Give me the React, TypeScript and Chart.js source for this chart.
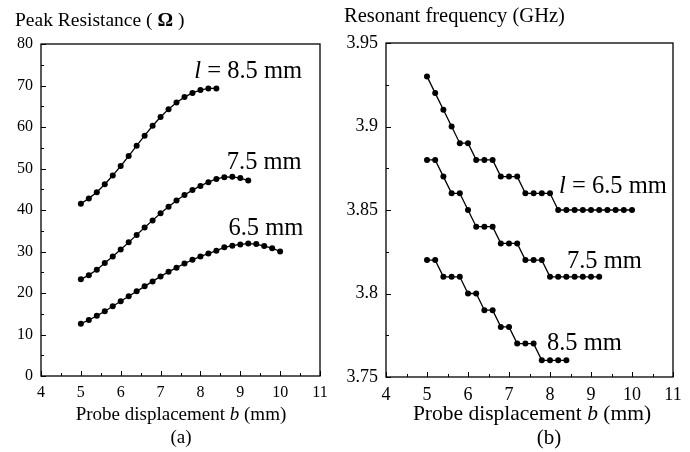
import React, { useEffect, useRef } from "react";
import { Chart, registerables } from "chart.js";

Chart.register(...registerables);

const FONT = "'Liberation Serif', 'Times New Roman', serif";

// x axis (probe displacement b, mm)
const X_TICKS = [4, 5, 6, 7, 8, 9, 10, 11];
const X_MINOR = [4.5, 5.5, 6.5, 7.5, 8.5, 9.5, 10.5];

// (a) Peak resistance
const RES_Y_TICKS = [0, 10, 20, 30, 40, 50, 60, 70, 80];
const RES_Y_MINOR = [5, 15, 25, 35, 45, 55, 65, 75];

const B_85 = [5, 5.2, 5.4, 5.6, 5.8, 6, 6.2, 6.4, 6.6, 6.8, 7, 7.2, 7.4, 7.6, 7.8, 8, 8.2, 8.4];
const RES_85 = [41.5, 42.8, 44.3, 46.2, 48.3, 50.6, 53.0, 55.5, 57.9, 60.3, 62.4, 64.3, 65.9, 67.2, 68.2, 68.9, 69.3, 69.3];

const B_75 = [5, 5.2, 5.4, 5.6, 5.8, 6, 6.2, 6.4, 6.6, 6.8, 7, 7.2, 7.4, 7.6, 7.8, 8, 8.2, 8.4, 8.6, 8.8, 9, 9.2];
const RES_75 = [23.3, 24.3, 25.6, 27.2, 28.8, 30.5, 32.2, 34.0, 35.8, 37.5, 39.2, 40.8, 42.3, 43.6, 44.8, 45.8, 46.7, 47.5, 47.9, 48.0, 47.7, 47.1];

const B_65 = [5, 5.2, 5.4, 5.6, 5.8, 6, 6.2, 6.4, 6.6, 6.8, 7, 7.2, 7.4, 7.6, 7.8, 8, 8.2, 8.4, 8.6, 8.8, 9, 9.2, 9.4, 9.6, 9.8, 10];
const RES_65 = [12.6, 13.5, 14.5, 15.6, 16.8, 18.0, 19.2, 20.4, 21.6, 22.8, 24.0, 25.1, 26.1, 27.1, 28.0, 28.8, 29.5, 30.2, 31.0, 31.4, 31.7, 31.9, 31.8, 31.3, 30.8, 30.0];

// (b) Resonant frequency
const FREQ_Y_TICKS = [3.75, 3.8, 3.85, 3.9, 3.95];
const FREQ_Y_MINOR = [3.775, 3.825, 3.875, 3.925];

const FREQ_65 = [3.93, 3.92, 3.91, 3.9, 3.89, 3.89, 3.88, 3.88, 3.88, 3.87, 3.87, 3.87, 3.86, 3.86, 3.86, 3.86, 3.85, 3.85, 3.85, 3.85, 3.85, 3.85, 3.85, 3.85, 3.85, 3.85];
const FREQ_75 = [3.88, 3.88, 3.87, 3.86, 3.86, 3.85, 3.84, 3.84, 3.84, 3.83, 3.83, 3.83, 3.82, 3.82, 3.82, 3.81, 3.81, 3.81, 3.81, 3.81, 3.81, 3.81];
const FREQ_85 = [3.82, 3.82, 3.81, 3.81, 3.81, 3.8, 3.8, 3.79, 3.79, 3.78, 3.78, 3.77, 3.77, 3.77, 3.76, 3.76, 3.76, 3.76];

// curve labels: [b, value, italic prefix, text]
const RES_LABELS: [number, number, string, string][] = [
  [10.55, 71.7, "l", " = 8.5 mm"],
  [10.54, 50.0, "", "7.5 mm"],
  [10.58, 34.0, "", "6.5 mm"],
];
const FREQ_LABELS: [number, number, string, string][] = [
  [10.85, 3.86, "l", " = 6.5 mm"],
  [10.24, 3.815, "", "7.5 mm"],
  [9.75, 3.766, "", "8.5 mm"],
];

type Series = { x: number[]; y: number[] };

const LABEL_PX = 24.5;

function framePlugin(xMinor: number[], yMinor: number[], labels: [number, number, string, string][]) {
  return {
    id: "frame",
    afterDatasetsDraw(chart: any) {
      const { ctx, chartArea: a, scales } = chart;
      const xs = scales.x;
      const ys = scales.y;
      ctx.save();
      ctx.strokeStyle = "#000";
      ctx.lineWidth = 1.3;
      ctx.strokeRect(a.left, a.top, a.right - a.left, a.bottom - a.top);
      ctx.lineWidth = 1;
      ctx.beginPath();
      xs.ticks.forEach((t: any) => {
        const px = Math.round(xs.getPixelForValue(t.value)) + 0.5;
        ctx.moveTo(px, a.bottom);
        ctx.lineTo(px, a.bottom - 5);
      });
      xMinor.forEach((v) => {
        const px = Math.round(xs.getPixelForValue(v)) + 0.5;
        ctx.moveTo(px, a.bottom);
        ctx.lineTo(px, a.bottom - 3);
      });
      ys.ticks.forEach((t: any) => {
        const py = Math.round(ys.getPixelForValue(t.value)) + 0.5;
        ctx.moveTo(a.left, py);
        ctx.lineTo(a.left + 5, py);
      });
      yMinor.forEach((v) => {
        const py = Math.round(ys.getPixelForValue(v)) + 0.5;
        ctx.moveTo(a.left, py);
        ctx.lineTo(a.left + 3, py);
      });
      ctx.stroke();
      ctx.fillStyle = "#000";
      ctx.textBaseline = "alphabetic";
      ctx.textAlign = "left";
      labels.forEach(([bx, vy, pre, text]) => {
        const px = xs.getPixelForValue(bx);
        const py = ys.getPixelForValue(vy);
        ctx.font = `italic ${LABEL_PX}px ${FONT}`;
        const w1 = pre ? ctx.measureText(pre).width : 0;
        ctx.font = `${LABEL_PX}px ${FONT}`;
        const w2 = ctx.measureText(text).width;
        let sx = px - w1 - w2;
        if (pre) {
          ctx.font = `italic ${LABEL_PX}px ${FONT}`;
          ctx.fillText(pre, sx, py);
          sx += w1;
        }
        ctx.font = `${LABEL_PX}px ${FONT}`;
        ctx.fillText(text, sx, py);
      });
      ctx.restore();
    },
  };
}

function Panel(props: {
  series: Series[];
  yMin: number;
  yMax: number;
  yTicks: number[];
  yMinor: number[];
  labels: [number, number, string, string][];
  padTop: number;
  padRight: number;
  xAxisH: number;
  yLabelPad: number;
  tickSize: number;
  left: number;
}) {
  const ref = useRef<HTMLCanvasElement | null>(null);
  useEffect(() => {
    if (!ref.current) return;
    const chart = new Chart(ref.current, {
      type: "scatter",
      data: {
        datasets: props.series.map((s) => ({
          data: s.x.map((x, i) => ({ x, y: s.y[i] })),
          showLine: true,
          borderColor: "#000",
          backgroundColor: "#000",
          borderWidth: 1.3,
          pointRadius: 3,
          pointHoverRadius: 3,
          pointBorderWidth: 0,
          tension: 0,
        })),
      },
      options: {
        responsive: false,
        animation: false,
        events: [],
        layout: { padding: { left: 0, right: props.padRight, top: props.padTop, bottom: 0 } },
        plugins: { legend: { display: false }, tooltip: { enabled: false } },
        scales: {
          x: {
            type: "linear",
            min: 4,
            max: 11,
            grid: { display: false, drawTicks: false },
            border: { display: false },
            afterBuildTicks: (s: any) => {
              s.ticks = X_TICKS.map((v) => ({ value: v }));
            },
            afterFit: (s: any) => {
              s.height = props.xAxisH;
            },
            ticks: {
              padding: 7,
              color: "#000",
              font: { family: FONT, size: props.tickSize },
              maxRotation: 0,
              autoSkip: false,
              callback: (v: any) => String(v),
            },
          },
          y: {
            type: "linear",
            min: props.yMin,
            max: props.yMax,
            grid: { display: false, drawTicks: false },
            border: { display: false },
            afterBuildTicks: (s: any) => {
              s.ticks = props.yTicks.map((v) => ({ value: v }));
            },
            afterFit: (s: any) => {
              s.width = 41;
            },
            ticks: {
              padding: props.yLabelPad,
              color: "#000",
              font: { family: FONT, size: props.tickSize },
              autoSkip: false,
              callback: (v: any) => String(Number(Number(v).toFixed(3))),
            },
          },
        },
      } as any,
      plugins: [framePlugin(X_MINOR, props.yMinor, props.labels)],
    });
    return () => chart.destroy();
  }, []);
  return (
    <canvas
      ref={ref}
      width={345}
      height={452}
      style={{ position: "absolute", left: props.left, top: 0, width: 345, height: 452 }}
    />
  );
}

const textStyle: React.CSSProperties = {
  position: "absolute",
  fontFamily: FONT,
  color: "#000",
  whiteSpace: "nowrap",
  lineHeight: "22px",
  textAlign: "center",
};

export default function App() {
  return (
    <div style={{ position: "absolute", left: 0, top: 0, width: 690, height: 452, background: "#fff", overflow: "hidden" }}>
      <Panel
        series={[
          { x: B_85, y: RES_85 },
          { x: B_75, y: RES_75 },
          { x: B_65, y: RES_65 },
        ]}
        yMin={0}
        yMax={80}
        yTicks={RES_Y_TICKS}
        yMinor={RES_Y_MINOR}
        labels={RES_LABELS}
        padTop={44}
        padRight={25}
        xAxisH={76}
        yLabelPad={8}
        tickSize={16}
        left={0}
      />
      <Panel
        series={[
          { x: B_65, y: FREQ_65 },
          { x: B_75, y: FREQ_75 },
          { x: B_85, y: FREQ_85 },
        ]}
        yMin={3.75}
        yMax={3.95}
        yTicks={FREQ_Y_TICKS}
        yMinor={FREQ_Y_MINOR}
        labels={FREQ_LABELS}
        padTop={43}
        padRight={17}
        xAxisH={75}
        yLabelPad={8}
        tickSize={18}
        left={345}
      />
      <div style={{ ...textStyle, textAlign: "left", left: 15, top: 9, fontSize: 19.5 }}>
        Peak Resistance ( <b>Ω</b> )
      </div>
      <div style={{ ...textStyle, textAlign: "left", left: 344, top: 4, fontSize: 20.5 }}>Resonant frequency (GHz)</div>
      <div style={{ ...textStyle, left: 75, width: 212, top: 403, fontSize: 19 }}>
        Probe displacement <i>b</i> (mm)
      </div>
      <div style={{ ...textStyle, left: 161, width: 40, top: 426, fontSize: 19 }}>(a)</div>
      <div style={{ ...textStyle, left: 402, width: 260, top: 402, fontSize: 21.5 }}>
        Probe displacement <i>b</i> (mm)
      </div>
      <div style={{ ...textStyle, left: 529, width: 40, top: 426, fontSize: 21 }}>(b)</div>
    </div>
  );
}
